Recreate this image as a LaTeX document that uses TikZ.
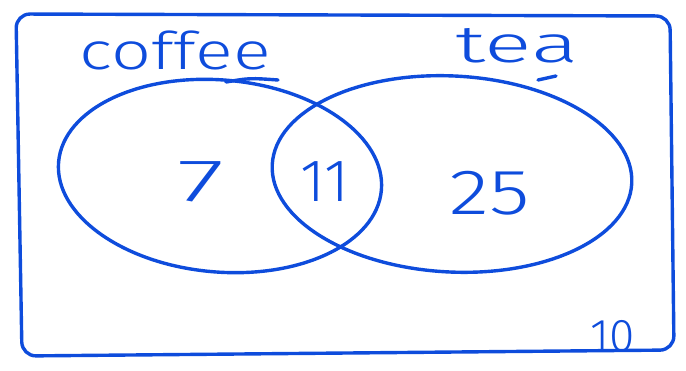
\documentclass[tikz,border=0pt]{standalone}
\usepackage{fontspec}
\setmainfont{Fira Sans}[UprightFont=* Light]
\definecolor{pen}{RGB}{14,76,220}
\begin{document}
\begin{tikzpicture}[x=1pt,y=-1pt,
  stroke/.style={draw=pen,line width=3.4pt,line cap=round,line join=round},
  lbl/.style={text=pen,font=\fontsize{52}{54}\selectfont,inner sep=0pt},
  num/.style={text=pen,font=\fontsize{60}{62}\selectfont,inner sep=0pt}]
\useasboundingbox (0,0) rectangle (686,371);
% frame
\draw[stroke,rounded corners=14pt] (16,14) -- (670,16) -- (674,350) -- (22,356) -- cycle;
% ellipses
\draw[stroke,rotate around={-5:(220,176)}] (220,176) ellipse [x radius=162, y radius=96];
\draw[stroke,rotate around={-3:(452,174)}] (452,174) ellipse [x radius=180, y radius=98];
% stroke overlaps
\draw[stroke] (226,82) .. controls (250,78) .. (278,80);
\draw[stroke] (538,80) -- (556,76);
% labels
\node[lbl,xscale=1.35] (coffee) at (175,50) {coffee};
\node[lbl,xscale=1.7] (tea) at (517,46) {tea};
\node[num,xscale=1.8] (n7) at (201,182) {7};
\node[num] (n11) at (325,182) {11};
\node[num,xscale=1.3,font=\fontsize{64}{66}\selectfont] (n25) at (490,193) {25};
\node[num,font=\fontsize{46}{48}\selectfont] (n10) at (613,336) {10};
\end{tikzpicture}
\end{document}
